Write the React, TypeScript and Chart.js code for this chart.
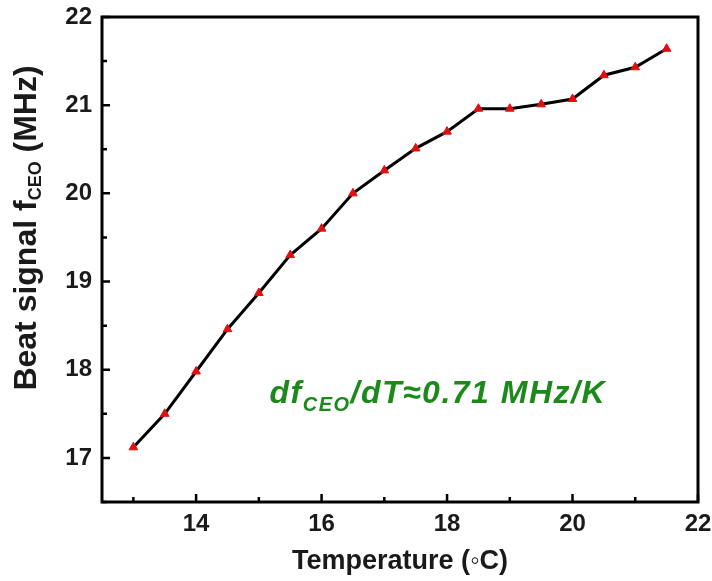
import React, { useEffect, useRef } from "react";
import { Chart, registerables } from "chart.js";

Chart.register(...registerables);

const temperatures = [13, 13.5, 14, 14.5, 15, 15.5, 16, 16.5, 17, 17.5, 18, 18.5, 19, 19.5, 20, 20.5, 21, 21.5];
const beatSignal = [17.12, 17.5, 17.98, 18.46, 18.87, 19.3, 19.6, 20.0, 20.26, 20.51, 20.7, 20.96, 20.96, 21.01, 21.07, 21.34, 21.43, 21.64];
const xTickLabels = [14, 16, 18, 20, 22];
const xMinorTicks = [13, 15, 17, 19, 21];
const yTickLabels = [17, 18, 19, 20, 21, 22];
const yMinorTicks = [16.5, 17.5, 18.5, 19.5, 20.5, 21.5];

const FONT = "'Liberation Sans', Arial, sans-serif";

const framePlugin = {
  id: "frame",
  afterDraw(chart: any) {
    const { ctx, chartArea } = chart;
    const { left, right, top, bottom } = chartArea;
    const xs = chart.scales.x;
    const ys = chart.scales.y;
    ctx.save();
    ctx.strokeStyle = "#000";
    ctx.lineWidth = 3;
    ctx.strokeRect(left, top, right - left, bottom - top);
    ctx.lineWidth = 2.5;
    ctx.beginPath();
    xTickLabels.forEach((v) => {
      const px = xs.getPixelForValue(v);
      ctx.moveTo(px, bottom);
      ctx.lineTo(px, bottom - 8);
    });
    xMinorTicks.forEach((v) => {
      const px = xs.getPixelForValue(v);
      ctx.moveTo(px, bottom);
      ctx.lineTo(px, bottom - 5);
    });
    yTickLabels.forEach((v) => {
      const py = ys.getPixelForValue(v);
      ctx.moveTo(left, py);
      ctx.lineTo(left + 8, py);
    });
    yMinorTicks.forEach((v) => {
      const py = ys.getPixelForValue(v);
      ctx.moveTo(left, py);
      ctx.lineTo(left + 5, py);
    });
    ctx.stroke();

    // x axis title
    ctx.fillStyle = "#1a1a1a";
    ctx.font = `bold 27px ${FONT}`;
    ctx.textAlign = "center";
    ctx.textBaseline = "middle";
    ctx.fillText("Temperature (◦C)", (left + right) / 2, 562);

    // y axis title with subscript
    ctx.save();
    ctx.translate(25, 228);
    ctx.rotate(-Math.PI / 2);
    const p1 = "Beat signal f";
    const sub = "CEO";
    const p2 = " (MHz)";
    ctx.font = `bold 32px ${FONT}`;
    const w1 = ctx.measureText(p1).width;
    const w3 = ctx.measureText(p2).width;
    ctx.font = `bold 18px ${FONT}`;
    const w2 = ctx.measureText(sub).width;
    let x0 = -(w1 + w2 + w3) / 2;
    ctx.textAlign = "left";
    ctx.textBaseline = "alphabetic";
    ctx.font = `bold 32px ${FONT}`;
    ctx.fillText(p1, x0, 11);
    x0 += w1;
    ctx.font = `bold 18px ${FONT}`;
    ctx.fillText(sub, x0, 16);
    x0 += w2;
    ctx.font = `bold 32px ${FONT}`;
    ctx.fillText(p2, x0, 11);
    ctx.restore();

    // annotation
    ctx.fillStyle = "#1b8a1b";
    ctx.textAlign = "left";
    ctx.textBaseline = "alphabetic";
    (ctx as any).letterSpacing = "1.5px";
    const ax = xs.getPixelForValue(15.17);
    const ay = ys.getPixelForValue(17.625);
    const parts: [string, number, number][] = [
      ["df", 32, 0],
      ["CEO", 20, 8],
      ["/dT≈0.71 MHz/K", 32, 0],
    ];
    let cx = ax;
    parts.forEach(([t, size, dy]) => {
      ctx.font = `italic bold ${size}px ${FONT}`;
      ctx.fillText(t, cx, ay + dy);
      cx += ctx.measureText(t).width;
    });
    (ctx as any).letterSpacing = "0px";
    ctx.restore();
  },
};

export default function App() {
  const ref = useRef<HTMLCanvasElement>(null);
  useEffect(() => {
    if (!ref.current) return;
    const chart = new Chart(ref.current, {
      type: "line",
      data: {
        datasets: [
          {
            data: temperatures.map((t, i) => ({ x: t, y: beatSignal[i] })),
            borderColor: "#000",
            borderWidth: 3,
            pointStyle: "triangle",
            pointRadius: 5,
            pointBackgroundColor: "#e01010",
            pointBorderColor: "#e01010",
            pointBorderWidth: 1,
            tension: 0,
          },
        ],
      },
      options: {
        animation: false,
        responsive: false,
        layout: { padding: { left: 0, top: 17, right: 14, bottom: 0 } },
        plugins: { legend: { display: false }, tooltip: { enabled: false } },
        scales: {
          x: {
            type: "linear",
            min: 12.5,
            max: 22,
            grid: { display: false, drawTicks: false },
            border: { display: false },
            afterBuildTicks: (s: any) => {
              s.ticks = xTickLabels.map((v) => ({ value: v }));
            },
            afterFit: (s: any) => {
              s.height = 79;
              s.paddingLeft = 0;
              s.paddingRight = 0;
            },
            ticks: {
              padding: 8,
              color: "#1a1a1a",
              font: { family: FONT, size: 24, weight: "bold" },
              maxRotation: 0,
              autoSkip: false,
            },
          },
          y: {
            type: "linear",
            min: 16.5,
            max: 22,
            grid: { display: false, drawTicks: false },
            border: { display: false },
            afterBuildTicks: (s: any) => {
              s.ticks = yTickLabels.map((v) => ({ value: v }));
            },
            afterFit: (s: any) => {
              s.width = 102;
              s.paddingTop = 0;
              s.paddingBottom = 0;
            },
            ticks: {
              padding: 10,
              color: "#1a1a1a",
              font: { family: FONT, size: 24, weight: "bold" },
              autoSkip: false,
            },
          },
        },
      },
      plugins: [framePlugin],
    });
    return () => chart.destroy();
  }, []);
  return (
    <div style={{ position: "fixed", left: 0, top: 0, width: 712, height: 581, background: "#fff" }}>
      <canvas ref={ref} width={712} height={581} style={{ width: 712, height: 581 }} />
    </div>
  );
}
